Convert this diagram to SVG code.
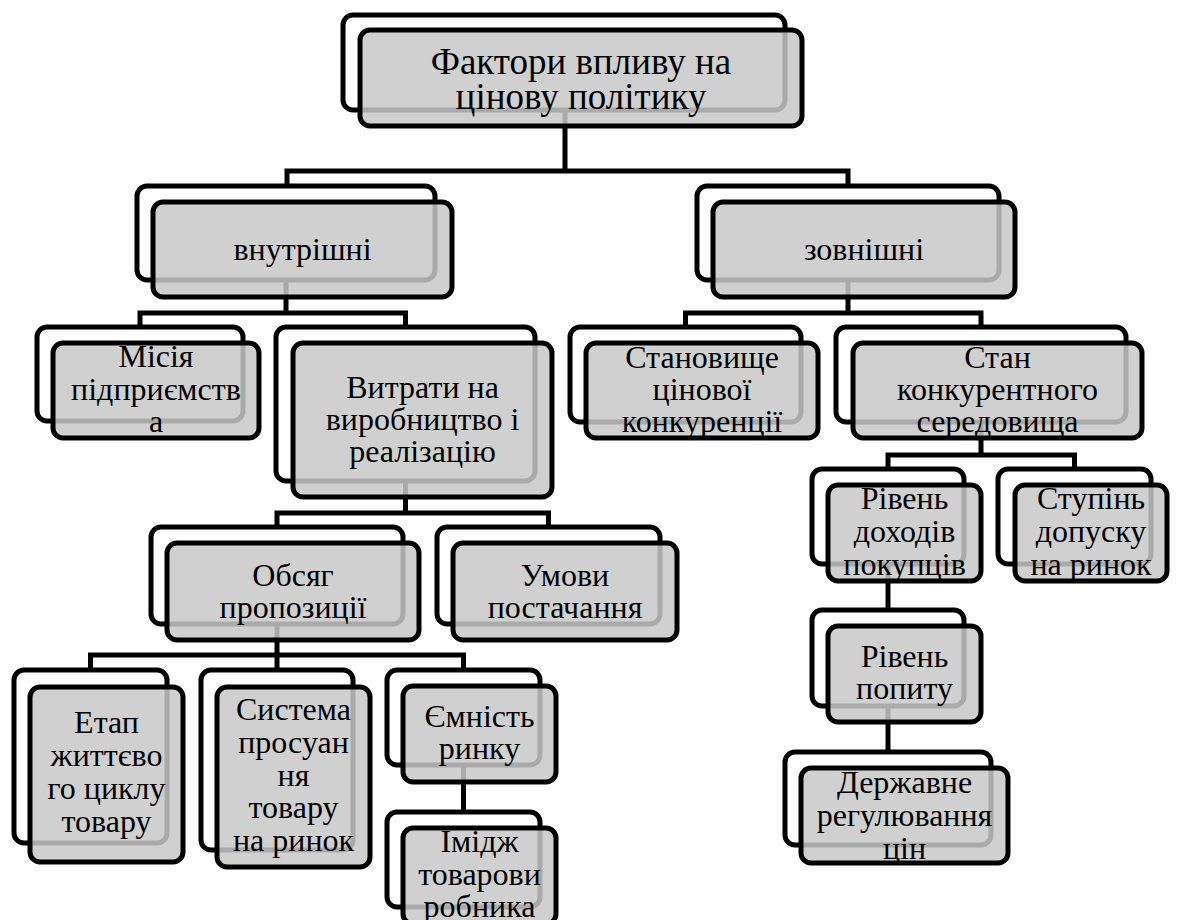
<svg xmlns="http://www.w3.org/2000/svg" width="1177" height="920" viewBox="0 0 1177 920" font-family="'Times New Roman', 'Liberation Serif', serif">
<style>
.bk{fill:#ffffff;stroke:#000000;stroke-width:5}
.fr{fill:rgb(200,200,200);fill-opacity:0.85;stroke:#000000;stroke-width:5}
text{font-family:'Times New Roman','Liberation Serif',serif;font-size:32px;fill:#000000;text-anchor:middle}
text.tt{font-size:37px}
.cn{fill:none;stroke:#000000;stroke-width:5;stroke-linejoin:miter;stroke-linecap:butt}
</style>
<rect width="1177" height="920" fill="#ffffff"/>
<g id="connectors">
<path class="cn" d="M565,110 V171 M287,186 V171 H848 V186"/>
<path class="cn" d="M286,280 V313 M140,327 V313 H405.5 V327"/>
<path class="cn" d="M848,280 V313 M685.5,327 V313 H981 V327"/>
<path class="cn" d="M405.5,481 V513 M277,527 V513 H548.5 V527"/>
<path class="cn" d="M981,422 V455 M888,469 V455 H1074.5 V469"/>
<path class="cn" d="M277,624 V655 M90.5,670 V655 H463.5 V670 M277,655 V670"/>
<path class="cn" d="M463.5,765 V812"/>
<path class="cn" d="M888,564 V610"/>
<path class="cn" d="M888,706 V752"/>
</g>
<g id="n0">
<rect class="bk" x="343" y="15" width="442" height="95" rx="10"/>
<rect class="fr" x="360" y="30" width="442" height="96" rx="10"/>
<text class="tt" x="581" y="74">Фактори впливу на</text>
<text class="tt" x="581" y="109">цінову політику</text>
</g>
<g id="n1">
<rect class="bk" x="137" y="186" width="298" height="94" rx="10"/>
<rect class="fr" x="153" y="202" width="299" height="95" rx="10"/>
<text x="302.5" y="260">внутрішні</text>
</g>
<g id="n2">
<rect class="bk" x="697" y="186" width="302" height="94" rx="10"/>
<rect class="fr" x="713" y="202" width="302" height="95" rx="10"/>
<text x="864" y="260">зовнішні</text>
</g>
<g id="n3">
<rect class="bk" x="37" y="327" width="206" height="94" rx="10"/>
<rect class="fr" x="53" y="343" width="206" height="95" rx="10"/>
<text x="156" y="367">Місія</text>
<text x="156" y="400">підприємств</text>
<text x="156" y="432">а</text>
</g>
<g id="n4">
<rect class="bk" x="276" y="327" width="259" height="154" rx="10"/>
<rect class="fr" x="293" y="343" width="259" height="154" rx="10"/>
<text x="422.5" y="398">Витрати на</text>
<text x="422.5" y="430">виробництво і</text>
<text x="422.5" y="462">реалізацію</text>
</g>
<g id="n5">
<rect class="bk" x="570" y="327" width="231" height="95" rx="10"/>
<rect class="fr" x="586" y="343" width="232" height="95" rx="10"/>
<text x="702" y="368">Становище</text>
<text x="702" y="400">цінової</text>
<text x="702" y="432">конкуренції</text>
</g>
<g id="n6">
<rect class="bk" x="836" y="327" width="290" height="95" rx="10"/>
<rect class="fr" x="853" y="343" width="289" height="95" rx="10"/>
<text x="997.5" y="368">Стан</text>
<text x="997.5" y="400">конкурентного</text>
<text x="997.5" y="432">середовища</text>
</g>
<g id="n7">
<rect class="bk" x="151" y="527" width="252" height="97" rx="10"/>
<rect class="fr" x="167" y="543" width="252" height="97" rx="10"/>
<text x="293" y="586">Обсяг</text>
<text x="293" y="618">пропозиції</text>
</g>
<g id="n8">
<rect class="bk" x="437" y="527" width="223" height="97" rx="10"/>
<rect class="fr" x="453" y="543" width="224" height="97" rx="10"/>
<text x="565" y="586">Умови</text>
<text x="565" y="618">постачання</text>
</g>
<g id="n9">
<rect class="bk" x="812" y="469" width="152" height="95" rx="10"/>
<rect class="fr" x="828" y="485" width="153" height="96" rx="10"/>
<text x="904.5" y="509">Рівень</text>
<text x="904.5" y="542">доходів</text>
<text x="904.5" y="575">покупців</text>
</g>
<g id="n10">
<rect class="bk" x="998" y="469" width="153" height="95" rx="10"/>
<rect class="fr" x="1015" y="485" width="152" height="96" rx="10"/>
<text x="1091" y="509">Ступінь</text>
<text x="1091" y="542">допуску</text>
<text x="1091" y="575">на ринок</text>
</g>
<g id="n11">
<rect class="bk" x="812" y="610" width="152" height="96" rx="10"/>
<rect class="fr" x="828" y="626" width="153" height="96" rx="10"/>
<text x="904.5" y="667">Рівень</text>
<text x="904.5" y="699">попиту</text>
</g>
<g id="n12">
<rect class="bk" x="785" y="752" width="206" height="93" rx="10"/>
<rect class="fr" x="801" y="768" width="207" height="95" rx="10"/>
<text x="904.5" y="793">Державне</text>
<text x="904.5" y="826">регулювання</text>
<text x="904.5" y="859">цін</text>
</g>
<g id="n13">
<rect class="bk" x="14" y="670" width="153" height="173" rx="10"/>
<rect class="fr" x="30" y="687" width="153" height="175" rx="10"/>
<text x="106.5" y="733">Етап</text>
<text x="106.5" y="766">життєво</text>
<text x="106.5" y="799">го циклу</text>
<text x="106.5" y="832">товару</text>
</g>
<g id="n14">
<rect class="bk" x="201" y="670" width="152" height="180" rx="10"/>
<rect class="fr" x="217" y="687" width="153" height="180" rx="10"/>
<text x="293.5" y="720">Система</text>
<text x="293.5" y="753">просуан</text>
<text x="293.5" y="786">ня</text>
<text x="293.5" y="818">товару</text>
<text x="293.5" y="851">на ринок</text>
</g>
<g id="n15">
<rect class="bk" x="387" y="670" width="153" height="95" rx="10"/>
<rect class="fr" x="403" y="686" width="153" height="96" rx="10"/>
<text x="479.5" y="727">Ємність</text>
<text x="479.5" y="759">ринку</text>
</g>
<g id="n16">
<rect class="bk" x="387" y="812" width="153" height="95" rx="10"/>
<rect class="fr" x="403" y="828" width="153" height="96" rx="10"/>
<text x="479.5" y="852">Імідж</text>
<text x="479.5" y="885">товарови</text>
<text x="479.5" y="917">робника</text>
</g>
</svg>
